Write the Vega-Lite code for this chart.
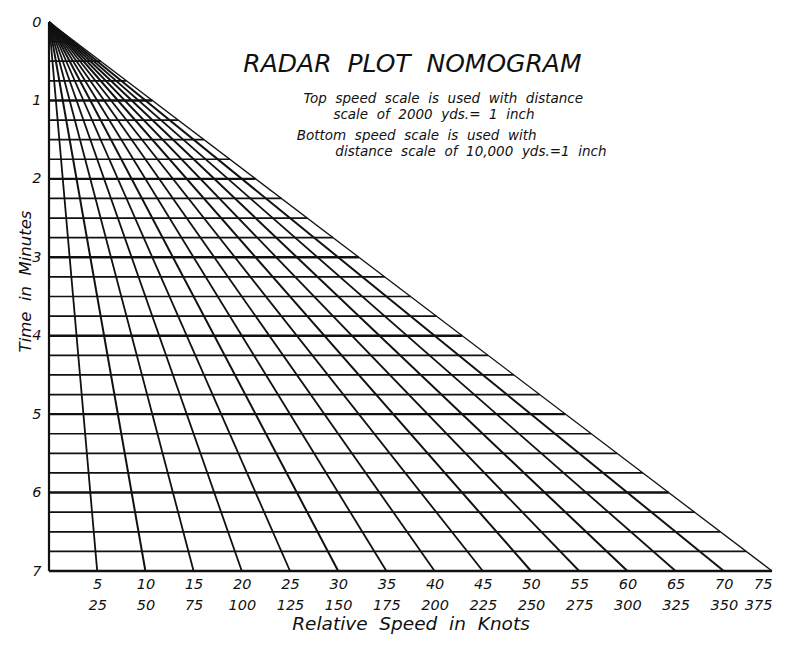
{
  "$schema": "https://vega.github.io/schema/vega-lite/v6.json",
  "width": 723,
  "height": 549,
  "autosize": "none",
  "padding": {"left": 49, "top": 22, "right": 28, "bottom": 88},
  "background": "white",
  "config": {"view": {"stroke": null}},
  "datasets": {
    "rays": [
      {"speed": 0, "s0": 0, "t0": 0, "t1": 7, "w": 2.2}, {"speed": 5, "s0": 0, "t0": 0, "t1": 7, "w": 1.8},
      {"speed": 10, "s0": 0, "t0": 0, "t1": 7, "w": 2}, {"speed": 15, "s0": 0, "t0": 0, "t1": 7, "w": 1.8},
      {"speed": 20, "s0": 0, "t0": 0, "t1": 7, "w": 1.8}, {"speed": 25, "s0": 0, "t0": 0, "t1": 7, "w": 1.8},
      {"speed": 30, "s0": 0, "t0": 0, "t1": 7, "w": 2}, {"speed": 35, "s0": 0, "t0": 0, "t1": 7, "w": 1.8},
      {"speed": 40, "s0": 0, "t0": 0, "t1": 7, "w": 1.8}, {"speed": 45, "s0": 0, "t0": 0, "t1": 7, "w": 1.8},
      {"speed": 50, "s0": 0, "t0": 0, "t1": 7, "w": 2}, {"speed": 55, "s0": 0, "t0": 0, "t1": 7, "w": 1.8},
      {"speed": 60, "s0": 0, "t0": 0, "t1": 7, "w": 2}, {"speed": 65, "s0": 0, "t0": 0, "t1": 7, "w": 1.8},
      {"speed": 70, "s0": 0, "t0": 0, "t1": 7, "w": 2}, {"speed": 75, "s0": 0, "t0": 0, "t1": 7, "w": 1.3}
    ],
    "rows": [
      {"t": 0.25, "s0": 0, "end": 2.68, "w": 1.7}, {"t": 0.5, "s0": 0, "end": 5.36, "w": 1.7}, {"t": 0.75, "s0": 0, "end": 8.04, "w": 1.7},
      {"t": 1, "s0": 0, "end": 10.71, "w": 2.4}, {"t": 1.25, "s0": 0, "end": 13.39, "w": 1.7}, {"t": 1.5, "s0": 0, "end": 16.07, "w": 1.7},
      {"t": 1.75, "s0": 0, "end": 18.75, "w": 1.7}, {"t": 2, "s0": 0, "end": 21.43, "w": 2.4}, {"t": 2.25, "s0": 0, "end": 24.11, "w": 1.7},
      {"t": 2.5, "s0": 0, "end": 26.79, "w": 1.7}, {"t": 2.75, "s0": 0, "end": 29.46, "w": 1.7}, {"t": 3, "s0": 0, "end": 32.14, "w": 2.4},
      {"t": 3.25, "s0": 0, "end": 34.82, "w": 1.7}, {"t": 3.5, "s0": 0, "end": 37.5, "w": 1.7}, {"t": 3.75, "s0": 0, "end": 40.18, "w": 1.7},
      {"t": 4, "s0": 0, "end": 42.86, "w": 2.4}, {"t": 4.25, "s0": 0, "end": 45.54, "w": 1.7}, {"t": 4.5, "s0": 0, "end": 48.21, "w": 1.7},
      {"t": 4.75, "s0": 0, "end": 50.89, "w": 1.7}, {"t": 5, "s0": 0, "end": 53.57, "w": 2.4}, {"t": 5.25, "s0": 0, "end": 56.25, "w": 1.7},
      {"t": 5.5, "s0": 0, "end": 58.93, "w": 1.7}, {"t": 5.75, "s0": 0, "end": 61.61, "w": 1.7}, {"t": 6, "s0": 0, "end": 64.29, "w": 2.4},
      {"t": 6.25, "s0": 0, "end": 66.96, "w": 1.7}, {"t": 6.5, "s0": 0, "end": 69.64, "w": 1.7}, {"t": 6.75, "s0": 0, "end": 72.32, "w": 1.7},
      {"t": 7, "s0": 0, "end": 75, "w": 2.4}
    ],
    "title": [
      {"text": "RADAR\u00a0 PLOT\u00a0 NOMOGRAM", "x": 37.7, "t": 0.64}
    ],
    "notes": [
      {"text": "Top\u00a0 speed\u00a0 scale\u00a0 is\u00a0 used\u00a0 with\u00a0 distance", "x": 26.4, "t": 1.033},
      {"text": "scale\u00a0 of\u00a0 2000\u00a0 yds.=\u00a0 1\u00a0 inch", "x": 29.5, "t": 1.237},
      {"text": "Bottom\u00a0 speed\u00a0 scale\u00a0 is\u00a0 used\u00a0 with", "x": 25.7, "t": 1.505},
      {"text": "distance\u00a0 scale\u00a0 of\u00a0 10,000\u00a0 yds.=1\u00a0 inch", "x": 29.7, "t": 1.709}
    ]
  },
  "layer": [
    {
      "data": {"name": "rays"},
      "mark": {"type": "rule", "color": "#111"},
      "encoding": {
        "x": {
          "field": "s0", "type": "quantitative",
          "scale": {"domain": [0, 75], "nice": false, "zero": true},
          "axis": {
            "values": [5, 10, 15, 20, 25, 30, 35, 40, 45, 50, 55, 60, 65, 70, 75],
            "labelExpr": "[datum.label, '' + (datum.value * 5)]",
            "labelLineHeight": 21,
            "labelPadding": 6,
            "labelFont": "DejaVu Sans", "labelFontStyle": "italic", "labelFontSize": 14.5, "labelColor": "#111",
            "domain": false, "ticks": false, "grid": false,
            "title": "Relative\u00a0 Speed\u00a0 in\u00a0 Knots",
            "titleFont": "DejaVu Sans", "titleFontStyle": "italic", "titleFontWeight": "normal",
            "titleFontSize": 18.5, "titleColor": "#111", "titlePadding": 3
          }
        },
        "y": {
          "field": "t0", "type": "quantitative",
          "scale": {"domain": [0, 7], "reverse": true, "nice": false},
          "axis": {
            "values": [0, 1, 2, 3, 4, 5, 6, 7],
            "format": "d",
            "labelFont": "DejaVu Sans", "labelFontStyle": "italic", "labelFontSize": 14.5, "labelColor": "#111",
            "labelPadding": 8,
            "domain": false, "ticks": false, "grid": false,
            "title": "Time\u00a0 in\u00a0 Minutes",
            "titleFont": "DejaVu Sans", "titleFontStyle": "italic", "titleFontWeight": "normal",
            "titleFontSize": 16.5, "titleColor": "#111", "titleY": 259, "titleX": -24, "titleBaseline": "middle"
          }
        },
        "x2": {"field": "speed"},
        "y2": {"field": "t1"},
        "strokeWidth": {"field": "w", "type": "quantitative", "scale": null}
      }
    },
    {
      "data": {"name": "rows"},
      "mark": {"type": "rule", "color": "#111"},
      "encoding": {
        "x": {"field": "s0", "type": "quantitative"},
        "x2": {"field": "end"},
        "y": {"field": "t", "type": "quantitative"},
        "strokeWidth": {"field": "w", "type": "quantitative", "scale": null}
      }
    },
    {
      "data": {"name": "title"},
      "mark": {"type": "text", "font": "DejaVu Sans", "fontStyle": "italic", "baseline": "alphabetic", "align": "center", "fontSize": 25, "color": "#111"},
      "encoding": {
        "x": {"field": "x", "type": "quantitative"},
        "y": {"field": "t", "type": "quantitative"},
        "text": {"field": "text"}
      }
    },
    {
      "data": {"name": "notes"},
      "mark": {"type": "text", "font": "DejaVu Sans", "fontStyle": "italic", "baseline": "alphabetic", "align": "left", "fontSize": 13.5, "color": "#111"},
      "encoding": {
        "x": {"field": "x", "type": "quantitative"},
        "y": {"field": "t", "type": "quantitative"},
        "text": {"field": "text"}
      }
    }
  ]
}
